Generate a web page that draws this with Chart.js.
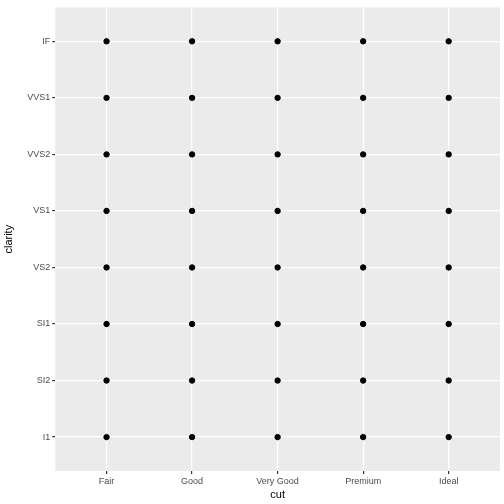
<!DOCTYPE html>
<html><head><script src="https://cdn.jsdelivr.net/npm/chart.js@4"></script>
<style>body{margin:0;background:#fff}#w{width:504px;height:504px}</style></head>
<body><div id="w"><canvas id="c"></canvas></div>
<script>
const cuts=['Fair','Good','Very Good','Premium','Ideal'];
const clarities=['I1','SI2','SI1','VS2','VS1','VVS2','VVS1','IF'];
const pts=[];
cuts.forEach((c,i)=>clarities.forEach((q,j)=>pts.push({x:i,y:j})));
const bg={id:'bg',beforeDraw(ch){const a=ch.chartArea,x=ch.ctx;x.save();x.fillStyle='#EBEBEB';x.fillRect(a.left,a.top,a.right-a.left,a.bottom-a.top);x.restore();}};
new Chart(document.getElementById('c'),{type:'scatter',plugins:[bg],
data:{datasets:[{data:pts,backgroundColor:'#000',borderColor:'#000',pointRadius:2.7,pointHoverRadius:2.7}]},
options:{responsive:true,maintainAspectRatio:false,animation:false,
layout:{padding:{top:5,right:4,left:2,bottom:0}},
plugins:{legend:{display:false},tooltip:{enabled:false}},
scales:{
x:{type:'linear',min:-0.6,max:4.6,afterBuildTicks(s){s.ticks=cuts.map((c,i)=>({value:i}));},
ticks:{callback:v=>cuts[v],color:'#4D4D4D',font:{size:9,family:'Liberation Sans'},padding:2,maxRotation:0},
grid:{color:'#fff',lineWidth:1.2,tickColor:'#333',tickLength:3,drawTicks:true},border:{display:false},
title:{display:true,text:'cut',color:'#000',font:{size:11,family:'Liberation Sans'},padding:{top:0,bottom:2}}},
y:{type:'linear',min:-0.6,max:7.6,afterBuildTicks(s){s.ticks=clarities.map((c,i)=>({value:i}));},
ticks:{callback:v=>clarities[v],color:'#4D4D4D',font:{size:9,family:'Liberation Sans'},padding:2},
grid:{color:'#fff',lineWidth:1.2,tickColor:'#333',tickLength:3},border:{display:false},
title:{display:true,text:'clarity',color:'#000',font:{size:11,family:'Liberation Sans'},padding:{top:0,bottom:10}}}
}}});
</script></body></html>
